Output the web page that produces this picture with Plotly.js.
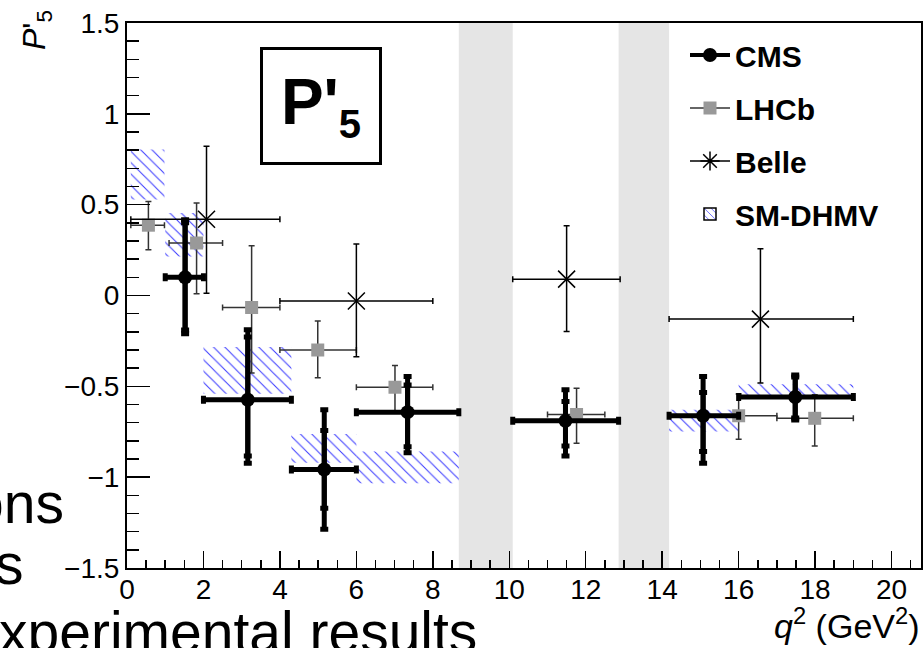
<!DOCTYPE html>
<html>
<head>
<meta charset="utf-8">
<script src="https://cdn.plot.ly/plotly-3.0.1.min.js"></script>
<style>html,body{margin:0;padding:0;background:#fff;}#chart{width:924px;height:648px;}</style>
</head>
<body>
<div id="chart"></div>
<script>
// ---- data ----
const cmsX      = [1.52, 3.16, 5.16, 7.34, 11.47, 15.07, 17.48];
const cmsBinLo  = [1, 2, 4.3, 6, 10.09, 14.18, 16];
const cmsBinHi  = [2, 4.3, 6, 8.68, 12.86, 16, 19];
const cmsY      = [0.10, -0.574, -0.958, -0.642, -0.69, -0.662, -0.559];
const cmsTotUp  = [0.317, 0.385, 0.329, 0.196, 0.171, 0.216, 0.122];
const cmsTotDn  = [0.311, 0.349, 0.329, 0.224, 0.193, 0.261, 0.126];
const cmsStatUp = [0.300, 0.345, 0.215, 0.150, 0.106, 0.128, 0.110];
const cmsStatDn = [0.290, 0.309, 0.213, 0.190, 0.138, 0.197, 0.115];

const lhcbX     = [0.56, 1.82, 3.26, 4.99, 7.01, 11.76, 16.0, 17.99];
const lhcbBinLo = [0.1, 1.1, 2.5, 4, 6, 11, 15, 17];
const lhcbBinHi = [0.98, 2.5, 4, 6, 8, 12.5, 17, 19];
const lhcbY     = [0.387, 0.289, -0.066, -0.300, -0.505, -0.655, -0.662, -0.676];
const lhcbErrUp = [0.131, 0.220, 0.340, 0.160, 0.120, 0.145, 0.120, 0.130];
const lhcbErrDn = [0.135, 0.279, 0.360, 0.153, 0.134, 0.158, 0.129, 0.152];

const belleX     = [2.08, 6.0, 11.5, 16.57];
const belleBinLo = [0.1, 4, 10.09, 14.18];
const belleBinHi = [4, 8, 12.9, 19];
const belleY     = [0.42, -0.03, 0.09, -0.13];
const belleErrUp = [0.401, 0.313, 0.294, 0.388];
const belleErrDn = [0.407, 0.307, 0.288, 0.352];

const dhmvBinLo = [0.1, 1.0, 2.0, 4.3, 6.0, 14.18, 16.0];
const dhmvBinHi = [0.98, 2.0, 4.3, 6.0, 8.68, 16.0, 19.0];
const dhmvLow   = [0.528, 0.215, -0.541, -0.920, -1.033, -0.749, -0.556];
const dhmvHigh  = [0.803, 0.454, -0.284, -0.763, -0.859, -0.629, -0.488];

const vetoLo = [8.68, 12.86];
const vetoHi = [10.09, 14.18];

const xTickVals = [0, 2, 4, 6, 8, 10, 12, 14, 16, 18, 20];
const xTickText = ['0', '2', '4', '6', '8', '10', '12', '14', '16', '18', '20'];
const yTickVals = [-1.5, -1, -0.5, 0, 0.5, 1, 1.5];
const yTickText = ['\u22121.5', '\u22121', '\u22120.5', '0', '0.5', '1', '1.5'];

const seriesNames = ['CMS', 'LHCb', 'Belle', 'SM-DHMV'];

// ---- helpers ----
const sub = (a, b) => a.map((v, i) => v - b[i]);
const FONT = 'Liberation Sans, Arial, Helvetica, sans-serif';

const traces = [];

// SM-DHMV hatched boxes
traces.push({
  type: 'bar',
  x: dhmvBinLo.map((v, i) => (v + dhmvBinHi[i]) / 2),
  width: sub(dhmvBinHi, dhmvBinLo),
  base: dhmvLow,
  y: sub(dhmvHigh, dhmvLow),
  marker: {
    color: 'rgba(0,0,0,0)',
    line: {width: 0},
    pattern: {shape: '\\', fgcolor: '#3b3bff', bgcolor: 'rgba(0,0,0,0)', size: 8, solidity: 0.13}
  },
  showlegend: false,
  hoverinfo: 'skip'
});

// LHCb
traces.push({
  type: 'scatter', mode: 'markers',
  x: lhcbX, y: lhcbY,
  marker: {symbol: 'square', size: 13, color: '#999999'},
  error_y: {type: 'data', symmetric: false, array: lhcbErrUp, arrayminus: lhcbErrDn, thickness: 1.5, width: 3, color: '#333333'},
  error_x: {type: 'data', symmetric: false, array: sub(lhcbBinHi, lhcbX), arrayminus: sub(lhcbX, lhcbBinLo), thickness: 1.5, width: 3, color: '#333333'},
  showlegend: false
});

// Belle
traces.push({
  type: 'scatter', mode: 'markers',
  x: belleX, y: belleY,
  marker: {symbol: 'x-thin-open', size: 17, color: '#000', line: {width: 1.5, color: '#000'}},
  error_y: {type: 'data', symmetric: false, array: belleErrUp, arrayminus: belleErrDn, thickness: 1.5, width: 3, color: '#000'},
  error_x: {type: 'data', symmetric: false, array: sub(belleBinHi, belleX), arrayminus: sub(belleX, belleBinLo), thickness: 1.5, width: 3, color: '#000'},
  showlegend: false
});

// CMS statistical ticks
traces.push({
  type: 'scatter', mode: 'markers',
  x: cmsX, y: cmsY,
  marker: {size: 1, color: '#000'},
  error_y: {type: 'data', symmetric: false, array: cmsStatUp, arrayminus: cmsStatDn, thickness: 5, width: 4, color: '#000'},
  showlegend: false, hoverinfo: 'skip'
});
// CMS total
traces.push({
  type: 'scatter', mode: 'markers',
  x: cmsX, y: cmsY,
  marker: {symbol: 'circle', size: 14, color: '#000'},
  error_y: {type: 'data', symmetric: false, array: cmsTotUp, arrayminus: cmsTotDn, thickness: 5, width: 4, color: '#000'},
  error_x: {type: 'data', symmetric: false, array: sub(cmsBinHi, cmsX), arrayminus: sub(cmsX, cmsBinLo), thickness: 5, width: 4, color: '#000'},
  showlegend: false
});

// legend entries
traces.push({type: 'scatter', mode: 'lines+markers', x: [null], y: [null], name: seriesNames[0], legendgroup: 'a',
  line: {color: '#000', width: 4}, marker: {symbol: 'circle', size: 14, color: '#000'}});
traces.push({type: 'scatter', mode: 'lines+markers', x: [null], y: [null], name: seriesNames[1], legendgroup: 'b',
  line: {color: '#333', width: 1.5}, marker: {symbol: 'square', size: 13, color: '#999999'}});
traces.push({type: 'scatter', mode: 'lines+markers', x: [null], y: [null], name: seriesNames[2], legendgroup: 'c',
  line: {color: '#000', width: 1.5}, marker: {symbol: 'asterisk-open', size: 18, color: '#000', line: {width: 1.5, color: '#000'}}});
traces.push({type: 'bar', x: [null], y: [null], name: seriesNames[3], legendgroup: 'd',
  marker: {color: 'rgba(0,0,0,0)', line: {width: 1.5, color: '#000'},
    pattern: {shape: '\\', fgcolor: '#3b3bff', bgcolor: 'rgba(0,0,0,0)', size: 6, solidity: 0.15}}});

const shapes = vetoLo.map((lo, i) => ({
  type: 'rect', xref: 'x', yref: 'paper', x0: lo, x1: vetoHi[i], y0: 0, y1: 1,
  fillcolor: '#e5e5e5', line: {width: 0}, layer: 'below'
}));

const PL = 127, PR = 921, PT = 23, PB = 568;
const px = v => (v - PL) / (PR - PL);
const py = v => (PB - v) / (PB - PT);

const annotations = [
  {text: "<b>P'<sub><span style=\"font-size:40px\">5</span></sub></b>", xref: 'paper', yref: 'paper',
   x: px(321), y: py(106), xanchor: 'center', yanchor: 'middle', showarrow: false,
   font: {family: FONT, size: 64, color: '#000'}, bordercolor: '#000', borderwidth: 3, borderpad: 0,
   width: 116, height: 112, bgcolor: '#fff'},
  {text: "<i>P</i>'<sub>5</sub>", xref: 'paper', yref: 'paper', x: px(37), y: py(30),
   xanchor: 'center', yanchor: 'middle', textangle: -90, showarrow: false,
   font: {family: FONT, size: 32, color: '#000'}},
  {text: "<i>q</i><sup>2</sup> (GeV<sup>2</sup>)", xref: 'paper', yref: 'paper', x: px(922), y: py(623),
   xanchor: 'right', yanchor: 'middle', showarrow: false,
   font: {family: FONT, size: 34, color: '#000'}},
  {text: 'ons', xref: 'paper', yref: 'paper', x: px(66), y: py(503), xanchor: 'right', yanchor: 'middle',
   showarrow: false, font: {family: FONT, size: 57, color: '#000'}},
  {text: 's', xref: 'paper', yref: 'paper', x: px(26), y: py(564), xanchor: 'right', yanchor: 'middle',
   showarrow: false, font: {family: FONT, size: 57, color: '#000'}},
  {text: 'xperimental results', xref: 'paper', yref: 'paper', x: px(479), y: py(632), xanchor: 'right', yanchor: 'middle',
   showarrow: false, font: {family: FONT, size: 57, color: '#000'}}
];

const layout = {
  width: 924, height: 648,
  margin: {l: PL, r: 924 - PR, t: PT, b: 648 - PB, pad: 0},
  paper_bgcolor: '#fff', plot_bgcolor: '#fff',
  font: {family: FONT, color: '#000'},
  barmode: 'overlay',
  showlegend: true,
  legend: {x: px(685), y: py(29), xanchor: 'left', yanchor: 'top', bgcolor: 'rgba(0,0,0,0)', borderwidth: 0,
    font: {family: FONT, size: 30, color: '#000', weight: 'bold'}, tracegroupgap: 11, itemwidth: 40,
    traceorder: 'grouped'},
  xaxis: {
    range: [0, 20.77], showgrid: false, zeroline: false,
    showline: true, linecolor: '#000', linewidth: 2, mirror: true,
    ticks: 'inside', ticklen: 17, tickwidth: 1.5, tickcolor: '#000',
    tickmode: 'array', tickvals: xTickVals, ticktext: xTickText, ticklabelstandoff: -5,
    minor: {tickmode: 'linear', tick0: 0, dtick: 0.5, ticks: 'inside', ticklen: 8, tickwidth: 1.5, tickcolor: '#000', showgrid: false},
    tickfont: {family: FONT, size: 28, color: '#000'}
  },
  yaxis: {
    range: [-1.5, 1.5], showgrid: false, zeroline: false,
    showline: true, linecolor: '#000', linewidth: 2, mirror: true,
    ticks: 'inside', ticklen: 23, tickwidth: 1.5, tickcolor: '#000',
    tickmode: 'array', tickvals: yTickVals, ticktext: yTickText,
    minor: {tickmode: 'linear', tick0: 0, dtick: 0.1, ticks: 'inside', ticklen: 12, tickwidth: 1.5, tickcolor: '#000', showgrid: false},
    tickfont: {family: FONT, size: 28, color: '#000'}
  },
  shapes: shapes,
  annotations: annotations
};

Plotly.newPlot('chart', traces, layout, {displayModeBar: false, staticPlot: true});
</script>
</body>
</html>
